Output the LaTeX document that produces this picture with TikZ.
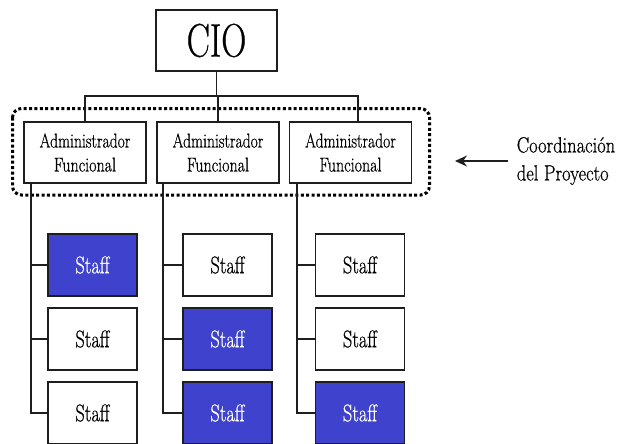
\documentclass[tikz,border=0pt]{standalone}
\usepackage{fontspec}
\usepackage{graphicx}
\usetikzlibrary{arrows.meta}
\setmainfont{Latin Modern Roman}[FakeBold=0.7]
\definecolor{staffblue}{RGB}{62,66,204}
\definecolor{inkline}{RGB}{30,30,30}
% horizontally condensed text
\newcommand{\narrowtext}[2]{\scalebox{#1}[1]{#2}}

\begin{document}
\begin{tikzpicture}[x=1pt,y=-1pt,
  orgbox/.style={draw=inkline, line width=1.5pt, fill=white, inner sep=0pt, align=center},
  ciobox/.style={orgbox, minimum width=121pt, minimum height=61pt, font=\fontsize{47}{50}\selectfont},
  adminbox/.style={orgbox, minimum width=122pt, minimum height=61pt, font=\fontsize{20}{24}\selectfont},
  staffbox/.style={orgbox, minimum width=89pt, minimum height=62pt, font=\fontsize{24}{26}\selectfont},
  staffhi/.style={staffbox, fill=staffblue, text=white},
  conn/.style={draw=inkline, line width=1.6pt},
  coordframe/.style={line width=3pt, dash pattern=on 3pt off 2.4pt, rounded corners=9pt},
  notetext/.style={inner sep=0pt, align=left, font=\fontsize{22}{28}\selectfont}
]
\useasboundingbox[fill=white] (0,0) rectangle (618,444);

% top of the hierarchy
\node[ciobox] (cio) at (216.5,40.5) {\narrowtext{0.74}{CIO}};

% functional managers
\node[adminbox] (adm1) at (85,152.5)  {\narrowtext{0.78}{Administrador}\\\narrowtext{0.8}{Funcional}};
\node[adminbox] (adm2) at (218,152.5) {\narrowtext{0.78}{Administrador}\\\narrowtext{0.8}{Funcional}};
\node[adminbox] (adm3) at (350.5,152.5) {\narrowtext{0.78}{Administrador}\\\narrowtext{0.8}{Funcional}};

% project coordination frame around the managers
\draw[coordframe] (12.5,108.5) rectangle (429.5,195);

% staff columns
\node[staffhi]  (s11) at (92.5,265) {\narrowtext{0.77}{Staff}};
\node[staffbox] (s12) at (92.5,339) {\narrowtext{0.77}{Staff}};
\node[staffbox] (s13) at (92.5,413) {\narrowtext{0.77}{Staff}};
\node[staffbox] (s21) at (227.5,265) {\narrowtext{0.77}{Staff}};
\node[staffhi]  (s22) at (227.5,339) {\narrowtext{0.77}{Staff}};
\node[staffhi]  (s23) at (227.5,413) {\narrowtext{0.77}{Staff}};
\node[staffbox] (s31) at (360,265) {\narrowtext{0.77}{Staff}};
\node[staffbox] (s32) at (360,339) {\narrowtext{0.77}{Staff}};
\node[staffhi]  (s33) at (360,413) {\narrowtext{0.77}{Staff}};

% bus from CIO to the managers
\coordinate (busL) at (85,96);
\coordinate (busR) at (358,96);
\draw[conn] (cio.south) -- (cio.south |- busL);
\draw[conn] (adm1.north) -- (busL) -- (busR) -- (busR |- adm3.north);
\draw[conn] (adm2.north) -- (adm2.north |- busL);

% managers to their staff
\coordinate (d1) at ([xshift=8pt]adm1.south west);
\coordinate (d2) at ([xshift=7pt]adm2.south west);
\coordinate (d3) at ([xshift=8pt]adm3.south west);
\draw[conn] (d1) |- (s13.west);
\draw[conn] (d1 |- s11.west) -- (s11.west);
\draw[conn] (d1 |- s12.west) -- (s12.west);
\draw[conn] (d2) |- (s23.west);
\draw[conn] (d2 |- s21.west) -- (s21.west);
\draw[conn] (d2 |- s22.west) -- (s22.west);
\draw[conn] (d3) |- (s33.west);
\draw[conn] (d3 |- s31.west) -- (s31.west);
\draw[conn] (d3 |- s32.west) -- (s32.west);

% coordination note
\node[notetext] (note) at (566,161) {\narrowtext{0.84}{Coordinación}\\\narrowtext{0.84}{del Proyecto}};
\coordinate (arrowtail) at (508,161);
\coordinate (arrowhead) at (455,161);
\draw[conn, -{Stealth[length=12pt,width=11pt]}] (arrowtail) -- (arrowhead);
\end{tikzpicture}
\end{document}
